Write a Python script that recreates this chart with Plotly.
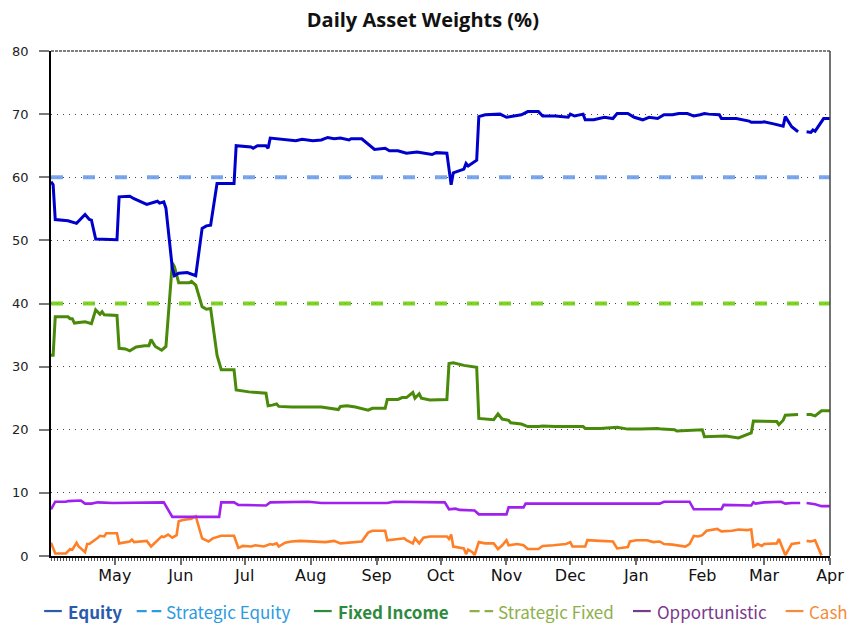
import pandas as pd
import plotly.graph_objects as go

# ---- data: day offsets from the first trading date, weights in % ----
START = pd.Timestamp("2011-04-01")
END = pd.Timestamp("2012-04-01")

EQUITY_DAY = [0, 1, 2, 8, 12, 16, 18, 19, 21, 31, 32, 37, 39, 45, 50, 51, 53, 54, 57, 58,
              60, 64, 68, 71, 73, 75, 78, 86, 87, 94, 95, 97, 101, 102, 103, 109, 115, 118,
              123, 127, 130, 133, 136, 140, 141, 146, 149, 152, 157, 159, 163, 167, 172, 179,
              181, 186, 188, 189, 194, 195, 196, 200, 201, 204, 211, 214, 221, 224, 229, 231,
              237, 241, 243, 244, 246, 250, 251, 255, 260, 264, 266, 271, 274, 278, 281, 285,
              288, 292, 295, 299, 302, 305, 307, 309, 314, 315, 322, 328, 329, 334, 335, 339,
              344, 345, 348, 351, 353, 355, 357, 358, 359, 363, 366]
EQUITY = [59.3, 58.8, 53.3, 53.1, 52.7, 54.1, 53.3, 53.2, 50.2, 50.1, 56.9, 57.0, 56.6, 55.7,
          56.2, 55.9, 56.1, 55.1, 45.6, 44.4, 44.8, 44.9, 44.4, 51.9, 52.3, 52.4, 59.0, 59.0,
          65.0, 64.8, 64.6, 65.0, 65.0, 64.6, 66.2, 66.0, 65.8, 66.0, 65.8, 65.9, 66.3, 66.1,
          66.2, 65.9, 66.1, 66.1, 65.2, 64.4, 64.6, 64.2, 64.2, 63.8, 64.0, 63.6, 63.9, 63.8,
          58.8, 60.7, 61.3, 62.2, 61.8, 62.7, 69.6, 69.9, 70.0, 69.5, 69.9, 70.4, 70.4, 69.7,
          69.7, 69.5, 69.5, 70.0, 69.7, 70.0, 69.1, 69.1, 69.5, 69.3, 70.1, 70.1, 69.5, 69.1,
          69.5, 69.3, 69.9, 69.9, 70.1, 70.1, 69.7, 69.9, 70.1, 70.0, 69.9, 69.3, 69.3, 68.9,
          68.7, 68.7, 68.8, 68.5, 68.1, 69.6, 68.0, 67.2, None, 67.2, 67.1, 67.5, 67.3, 69.3,
          69.3]

FIXED_DAY = [0, 1, 2, 8, 9, 10, 11, 14, 16, 19, 21, 23, 24, 25, 31, 32, 35, 37, 40, 44, 46,
             47, 49, 52, 54, 57, 58, 60, 65, 66, 68, 71, 73, 75, 78, 80, 86, 87, 93, 101, 102,
             104, 106, 107, 113, 127, 135, 136, 139, 143, 147, 149, 151, 157, 158, 163, 165,
             167, 170, 171, 173, 174, 178, 186, 187, 189, 194, 200, 201, 208, 210, 212, 215,
             216, 221, 224, 229, 231, 237, 244, 250, 251, 258, 266, 271, 277, 285, 287, 293,
             294, 306, 307, 314, 317, 323, 325, 329, 330, 332, 341, 342, 344, 345, 351, 353,
             355, 357, 359, 362, 366]
FIXED_INCOME = [31.8, 31.8, 37.9, 37.9, 37.6, 37.6, 36.9, 37.0, 37.1, 36.8, 39.0, 38.3, 38.7,
                38.2, 38.1, 32.9, 32.8, 32.5, 33.1, 33.3, 33.3, 34.3, 33.2, 32.6, 33.2, 46.4,
                45.8, 43.3, 43.3, 43.5, 42.9, 39.5, 39.1, 39.2, 31.8, 29.5, 29.5, 26.3, 26.0,
                25.8, 23.8, 23.9, 24.1, 23.7, 23.6, 23.6, 23.2, 23.7, 23.8, 23.6, 23.2, 23.1,
                23.4, 23.4, 24.8, 24.8, 25.1, 25.1, 25.9, 25.0, 25.7, 25.0, 24.7, 24.8, 30.5,
                30.6, 30.2, 29.9, 21.8, 21.6, 22.5, 21.7, 21.5, 21.1, 20.9, 20.5, 20.5, 20.6,
                20.5, 20.5, 20.5, 20.2, 20.2, 20.4, 20.1, 20.1, 20.2, 20.1, 20.0, 19.8, 20.0,
                18.9, 18.9, 19.0, 18.7, 19.0, 19.5, 21.4, 21.4, 21.3, 20.8, 21.5, 22.3, 22.4,
                None, 22.4, 22.4, 22.2, 23.0, 23.0]

OPPORT_DAY = [0, 2, 7, 8, 14, 16, 19, 22, 29, 53, 57, 79, 80, 86, 88, 92, 101, 103, 115, 121,
              127, 158, 161, 185, 187, 190, 192, 199, 201, 214, 215, 222, 223, 231, 240, 244,
              251, 286, 288, 300, 302, 315, 316, 329, 330, 331, 335, 343, 345, 348, 352, 353,
              355, 359, 362, 366]
OPPORTUNISTIC = [7.4, 8.6, 8.6, 8.7, 8.8, 8.3, 8.3, 8.5, 8.4, 8.5, 6.2, 6.2, 8.5, 8.5, 8.1,
                 8.1, 8.0, 8.5, 8.5, 8.6, 8.4, 8.4, 8.6, 8.5, 7.4, 7.5, 7.3, 7.2, 6.6, 6.6, 7.7,
                 7.7, 8.3, 8.3, 8.3, 8.2, 8.3, 8.3, 8.6, 8.6, 7.4, 7.4, 8.1, 8.0, 8.5, 8.3, 8.5,
                 8.6, 8.3, 8.4, 8.4, None, 8.4, 8.2, 7.9, 7.9]

CASH_DAY = [0, 2, 7, 9, 10, 12, 13, 16, 17, 18, 22, 23, 25, 26, 31, 32, 37, 38, 39, 45, 47,
            52, 53, 55, 57, 59, 60, 62, 66, 68, 71, 73, 74, 76, 80, 86, 88, 89, 90, 94, 96,
            100, 103, 104, 106, 107, 110, 113, 117, 129, 133, 136, 146, 149, 151, 157, 158,
            166, 167, 170, 171, 173, 175, 178, 186, 187, 188, 189, 194, 195, 196, 198, 199,
            201, 204, 208, 210, 212, 214, 215, 219, 222, 224, 229, 231, 236, 242, 244, 245,
            251, 252, 258, 264, 266, 271, 272, 275, 280, 283, 286, 288, 292, 298, 300, 302,
            304, 306, 308, 313, 315, 320, 323, 327, 329, 330, 332, 334, 335, 339, 341, 342,
            343, 345, 348, 352, 353, 355, 357, 359, 362]
CASH = [2.1, 0.4, 0.4, 1.1, 1.0, 2.1, 1.5, 0.6, 1.9, 1.9, 2.9, 3.2, 3.1, 3.6, 3.6, 2.0, 2.3,
        2.6, 2.2, 2.4, 1.5, 3.1, 3.0, 3.4, 2.9, 3.3, 5.5, 5.7, 5.9, 6.3, 2.8, 2.5, 2.3, 2.8,
        3.2, 3.2, 1.3, 1.4, 1.6, 1.5, 1.7, 1.5, 1.9, 1.8, 2.0, 1.5, 2.1, 2.3, 2.4, 2.2, 2.4,
        2.0, 2.3, 3.7, 4.0, 4.0, 2.5, 2.8, 2.5, 2.0, 2.8, 2.0, 2.9, 3.1, 3.1, 2.7, 3.4, 1.5,
        1.2, 0.3, 1.0, 0.6, 0.15, 2.2, 2.0, 2.0, 1.1, 1.7, 2.5, 1.7, 1.9, 1.7, 1.1, 1.1, 1.6,
        1.7, 1.9, 2.2, 1.5, 1.5, 2.5, 2.4, 2.3, 1.2, 1.4, 2.3, 2.5, 2.5, 2.2, 2.3, 1.9, 1.8,
        1.5, 1.9, 3.2, 3.1, 3.3, 4.0, 4.3, 3.9, 4.0, 4.2, 4.1, 4.2, 1.5, 1.9, 1.6, 1.9, 2.0,
        2.0, 2.7, 1.9, 0.15, 1.9, 2.1, None, 2.4, 2.3, 2.5, 0.1]

STRATEGIC_DAY = [0, 366]
STRATEGIC_EQUITY = [60, 60]
STRATEGIC_FIXED = [40, 40]

MONTH_TICKS = ["2011-05-01", "2011-06-01", "2011-07-01", "2011-08-01", "2011-09-01",
               "2011-10-01", "2011-11-01", "2011-12-01", "2012-01-01", "2012-02-01",
               "2012-03-01", "2012-04-01"]
MONTH_LABELS = ["May", "Jun", "Jul", "Aug", "Sep", "Oct", "Nov", "Dec", "Jan", "Feb",
                "Mar", "Apr"]
Y_TICKS = [0, 10, 20, 30, 40, 50, 60, 70, 80]


def to_dates(days):
    return [START + pd.Timedelta(days=d) for d in days]


fig = go.Figure()

# strategic targets sit underneath the actual weights
fig.add_trace(go.Scatter(x=to_dates(STRATEGIC_DAY), y=STRATEGIC_EQUITY, mode="lines",
                         name="Strategic Equity",
                         line=dict(color="rgba(100,150,235,0.85)", width=4, dash="12px,20px")))
fig.add_trace(go.Scatter(x=to_dates(STRATEGIC_DAY), y=STRATEGIC_FIXED, mode="lines",
                         name="Strategic Fixed",
                         line=dict(color="rgba(102,204,0,0.85)", width=4, dash="12px,20px")))

fig.add_trace(go.Scatter(x=to_dates(CASH_DAY), y=CASH, mode="lines", name="Cash",
                         line=dict(color="#ff7f27", width=2.6)))
fig.add_trace(go.Scatter(x=to_dates(OPPORT_DAY), y=OPPORTUNISTIC, mode="lines",
                         name="Opportunistic", line=dict(color="#a020f0", width=2.6)))
fig.add_trace(go.Scatter(x=to_dates(FIXED_DAY), y=FIXED_INCOME, mode="lines",
                         name="Fixed Income", line=dict(color="#4a8a0a", width=3)))
fig.add_trace(go.Scatter(x=to_dates(EQUITY_DAY), y=EQUITY, mode="lines", name="Equity",
                         line=dict(color="#0000cc", width=3)))

fig.update_layout(
    width=856, height=624,
    margin=dict(l=45, r=20, t=51, b=68),
    paper_bgcolor="white", plot_bgcolor="white",
    showlegend=False,
    title=dict(text="<b>Daily Asset Weights (%)</b>", x=0.494, xanchor="center",
               y=0.968, yanchor="middle",
               font=dict(family="Open Sans", size=20, color="#111111")),
    xaxis=dict(
        type="date", range=[START, END],
        tickvals=MONTH_TICKS, ticktext=MONTH_LABELS,
        showgrid=False, zeroline=False,
        showline=True, linecolor="#000000", linewidth=1.5,
        ticks="outside", ticklen=7, tickwidth=2, tickcolor="#6e6e6e",
        tickfont=dict(family="DejaVu Sans", size=16, color="#111111"),
        ticklabelstandoff=-3,
        minor=dict(ticks="outside", ticklen=3, tickwidth=1, tickcolor="#555555",
                   dtick=86400000 * 1.45, tick0="2011-04-01", showgrid=False),
    ),
    yaxis=dict(
        range=[0, 80], tickvals=Y_TICKS,
        showgrid=True, gridcolor="#444444", gridwidth=1.2, griddash="1px,5px",
        zeroline=False,
        showline=True, linecolor="#000000", linewidth=1.5,
        ticks="outside", ticklen=10, tickwidth=1.5, tickcolor="#7a7a7a",
        tickfont=dict(family="DejaVu Sans", size=13, color="#222222"),
        ticklabelstandoff=8,
    ),
)

# dense grey rule across the top and the right-hand frame line
fig.add_shape(type="line", xref="paper", yref="paper", x0=0, x1=1, y0=1, y1=1,
              line=dict(color="#808080", width=2, dash="3px,1px"))
fig.add_shape(type="line", xref="paper", yref="paper", x0=1, x1=1, y0=0, y1=1,
              line=dict(color="#444444", width=1.5))

# legend along the bottom edge: a short line key followed by coloured text
LEG_Y = -0.109
legend_items = [
    # label, colour, key start, key end, dashed key, text start (paper x)
    ("<b>Equity</b>", "#2a5cab", -0.0088, 0.0139, False, 0.0200),
    ("Strategic Equity", "#2e9ae0", 0.1100, 0.1416, True, 0.1465),
    ("<b>Fixed Income</b>", "#2e8b3e", 0.3375, 0.3603, False, 0.3665),
    ("Strategic Fixed", "#8db04a", 0.5373, 0.5676, True, 0.5725),
    ("Opportunistic", "#7a3a8c", 0.7471, 0.7699, False, 0.7760),
    ("Cash", "#f68b3c", 0.9431, 0.9659, False, 0.9720),
]
for label, color, k0, k1, dashed, tx in legend_items:
    fig.add_shape(type="line", xref="paper", yref="paper", x0=k0, x1=k1,
                  y0=LEG_Y, y1=LEG_Y,
                  line=dict(color=color, width=2.2, dash="10px,5px" if dashed else "solid"))
    fig.add_annotation(text=label, x=tx, y=LEG_Y, xref="paper", yref="paper",
                       xanchor="left", yanchor="middle", showarrow=False, borderpad=0,
                       font=dict(family="Noto Sans CJK KR", size=17, color=color))

fig.write_html("out.html")
